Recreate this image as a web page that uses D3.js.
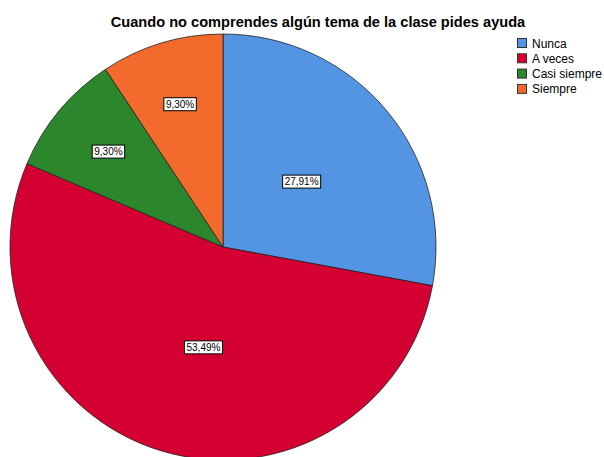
<!DOCTYPE html>
<html><head><meta charset="utf-8">
<script src="https://cdn.jsdelivr.net/npm/d3@7"></script>
<style>body{margin:0;background:#fff}svg{display:block}</style>
</head><body>
<script>
const categories = ["Nunca", "A veces", "Casi siempre", "Siempre"];
const values = [27.91, 53.49, 9.30, 9.30];
const labels = ["27,91%", "53,49%", "9,30%", "9,30%"];
const colors = ["#5495e3", "#d50032", "#2c872c", "#f26b2c"];
const title = "Cuando no comprendes algún tema de la clase pides ayuda";

const W = 604, H = 457;
const svg = d3.select("body").append("svg").attr("width", W).attr("height", H);

svg.append("text").attr("x", 318).attr("y", 27).attr("text-anchor", "middle")
  .attr("font-family", "Liberation Sans, Arial, sans-serif").attr("font-weight", "bold")
  .attr("font-size", 14.6).attr("fill", "#000").text(title);

const cx = 223, cy = 247, R = 213;
const data = categories.map((c, i) => ({cat: c, value: values[i], label: labels[i], color: colors[i]}));
const pie = d3.pie().sort(null).value(d => d.value);
const arcs = pie(data);
const arc = d3.arc().innerRadius(0).outerRadius(R);
const g = svg.append("g").attr("transform", `translate(${cx},${cy})`);
g.selectAll("path").data(arcs).join("path").attr("d", arc)
  .attr("fill", d => d.data.color).attr("stroke", "#222").attr("stroke-width", 0.8);

const lab = g.selectAll("g.lab").data(arcs).join("g").attr("class", "lab")
  .attr("transform", d => {
    const frac = (d.endAngle - d.startAngle) / (2 * Math.PI);
    const r = frac > 0.2 ? R * 0.48 : R * 0.7;
    const a = (d.startAngle + d.endAngle) / 2 - (frac > 0.4 ? 0.1 : 0);
    return `translate(${r * Math.sin(a)},${-r * Math.cos(a)})`;
  });
lab.each(function(d) {
  const s = d3.select(this);
  const t = s.append("text").attr("text-anchor", "middle").attr("dy", "0.35em")
    .attr("font-family", "Liberation Sans, Arial, sans-serif").attr("font-size", 10)
    .attr("fill", "#000").text(d.data.label);
  const b = t.node().getBBox();
  s.insert("rect", "text").attr("x", b.x - 2).attr("y", -6.5).attr("width", b.width + 4).attr("height", 13)
    .attr("fill", "#fff").attr("stroke", "#000").attr("stroke-width", 1);
});

const leg = svg.append("g").attr("transform", "translate(517,38)");
const li = leg.selectAll("g").data(data).join("g").attr("transform", (d, i) => `translate(0,${i * 15.3})`);
li.append("rect").attr("x", 0.5).attr("y", 0.5).attr("width", 9).attr("height", 9)
  .attr("fill", d => d.color).attr("stroke", "#333").attr("stroke-width", 1);
li.append("text").attr("x", 15).attr("y", 9.5).attr("font-family", "Liberation Sans, Arial, sans-serif")
  .attr("font-size", 12).attr("fill", "#000").text(d => d.cat);
</script>
</body></html>
